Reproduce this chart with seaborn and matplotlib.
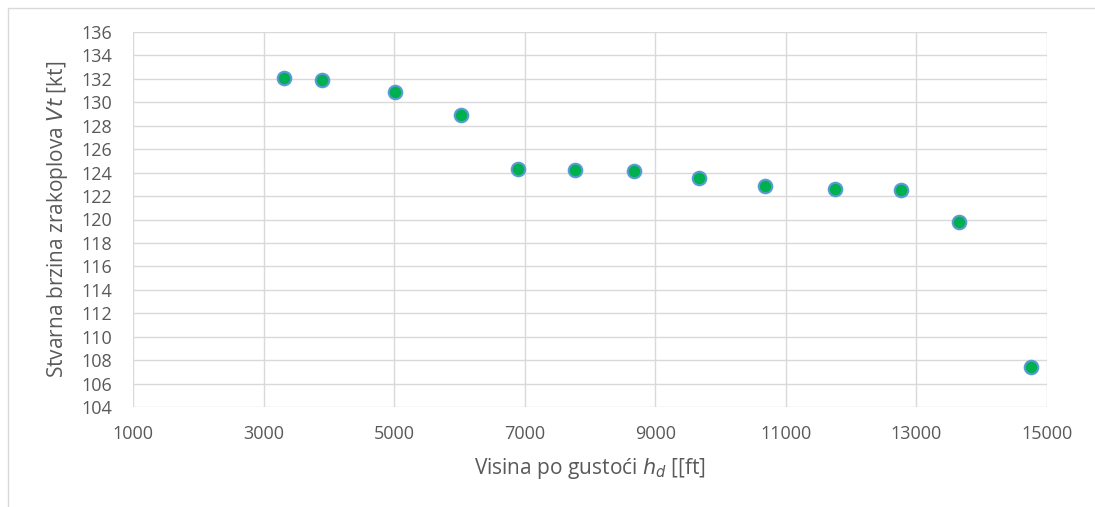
import matplotlib
matplotlib.use("Agg")
import matplotlib.pyplot as plt
import seaborn as sns
import pandas as pd
from matplotlib.patches import Rectangle

# values
visina = [3320, 3900, 5010, 6020, 6900, 7770, 8670, 9670, 10680, 11750, 12760, 13650, 14750]
brzina = [132.1, 131.9, 130.9, 128.9, 124.3, 124.2, 124.1, 123.5, 122.9, 122.6, 122.5, 119.8, 107.4]
x_ticks = list(range(1000, 15001, 2000))
y_ticks = list(range(104, 137, 2))

df = pd.DataFrame({"h": visina, "v": brzina})

sns.set_theme(style="white")
plt.rcParams["font.family"] = ["Open Sans", "DejaVu Sans"]

fig = plt.figure(figsize=(10.95, 5.07), dpi=100)
ax = fig.add_axes([133 / 1095, 1 - 407 / 507, (1047 - 133) / 1095, (407 - 32) / 507])

# thin grey frame round the chart
fig.patches.append(Rectangle((8 / 1095, -0.1), 1.2, 1 - 8 / 507 + 0.1, transform=fig.transFigure,
                             fill=False, edgecolor="#d9d9d9", linewidth=1))

sns.scatterplot(data=df, x="h", y="v", ax=ax, s=95, color="#00b050",
                edgecolor="#5b9bd5", linewidth=1.5, zorder=3)

ax.set_xlim(1000, 15000)
ax.set_ylim(104, 136)
ax.set_xticks(x_ticks)
ax.set_yticks(y_ticks)
ax.grid(True, color="#d9d9d9", linewidth=1)
for s in ax.spines.values():
    s.set_visible(False)
ax.tick_params(axis="both", length=0, labelsize=13, labelcolor="#595959")
ax.tick_params(axis="x", pad=13)
ax.tick_params(axis="y", pad=15)

ax.set_xlabel("Visina po gustoći $\\mathit{h}_{\\mathit{d}}$ [[ft]", fontsize=15, color="#595959")
ax.set_ylabel("Stvarna brzina zrakoplova $\\mathit{Vt}$ [kt]", fontsize=15, color="#595959")
ax.xaxis.set_label_coords(0.5, (407 - 456) / 375)
ax.yaxis.set_label_coords((70 - 133) / 914, 0.5)

fig.savefig("out.png", dpi=100)
